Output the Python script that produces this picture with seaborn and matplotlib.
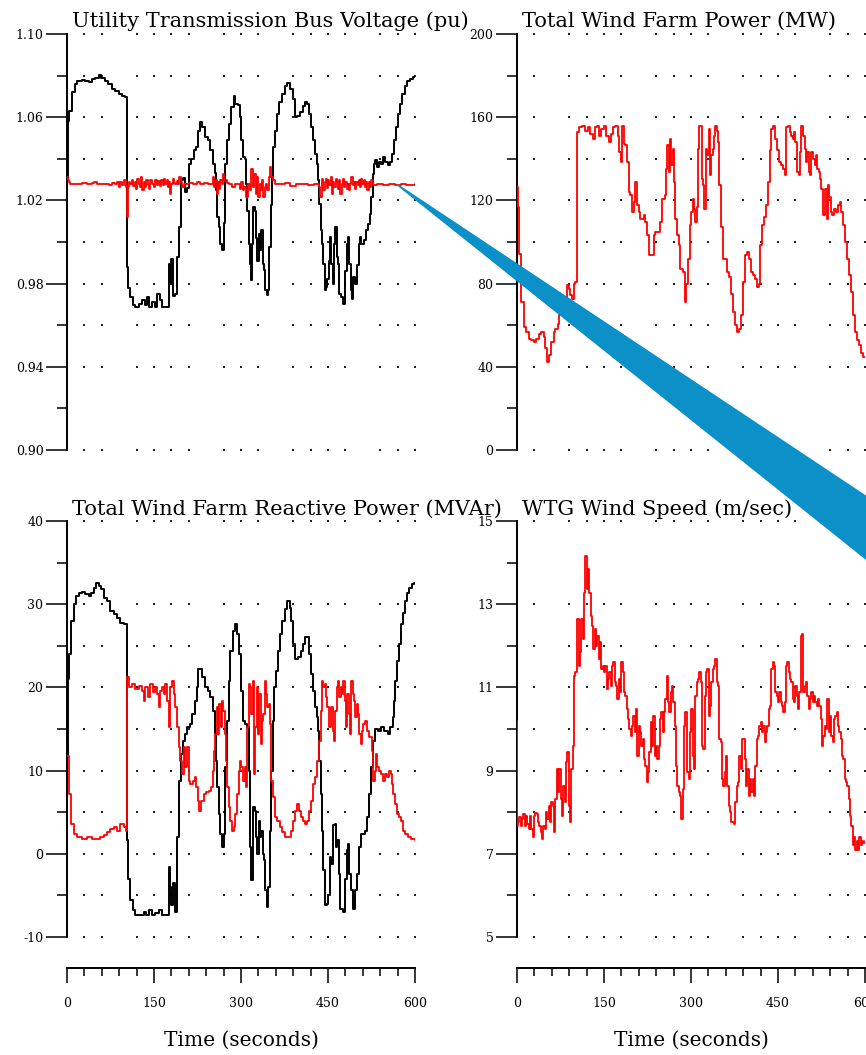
import numpy as np
import pandas as pd
import matplotlib
matplotlib.use("Agg")
import matplotlib.pyplot as plt
from matplotlib.ticker import FixedLocator, MultipleLocator
from matplotlib.patches import Polygon
import seaborn as sns

# ── Data (time in seconds, value) ───────────────────────────
# Utility transmission bus voltage (pu), black
bus_v_pts = [
    (0, 1.030), (1, 1.045), (2.5, 1.058), (4, 1.063), (8.6, 1.072), (13.2, 1.076),
    (17.2, 1.0776), (25.9, 1.078), (31.6, 1.0776), (37.4, 1.0768), (43.1, 1.0784),
    (48.9, 1.079), (54.6, 1.0805), (59.2, 1.079), (64.9, 1.0776), (70.7, 1.076),
    (77.6, 1.0736), (83.3, 1.0728), (89.1, 1.071), (94.8, 1.0704), (100.6, 1.0696),
    (103.4, 0.988), (106, 0.978), (109.2, 0.9736), (113.2, 0.9696), (117.8, 0.9688),
    (123.6, 0.9704), (129.3, 0.972), (133.9, 0.9696), (137.9, 0.9736), (142, 0.9688),
    (146.6, 0.9712), (151.1, 0.9688), (155.2, 0.975), (160.9, 0.972), (163.8, 0.9688),
    (172.4, 0.9688), (175.3, 0.9896), (178.2, 0.980), (179.9, 0.992), (182.2, 0.974),
    (186.8, 0.9752), (190.2, 0.9928), (192.5, 1.007), (196, 1.0296), (199.4, 1.031),
    (202.9, 1.024), (206.9, 1.026), (209.8, 1.0376), (214.4, 1.040), (218.4, 1.044),
    (222.4, 1.0456), (225.9, 1.0536), (228.7, 1.0576), (232.8, 1.0552), (237.4, 1.0504),
    (243.1, 1.0488), (247.1, 1.044), (251.1, 1.0376), (254.6, 1.033), (256.9, 1.025),
    (258.6, 1.012), (261.5, 1.007), (264.4, 0.999), (267.2, 0.996), (270.1, 1.009),
    (273, 1.0376), (275.9, 1.0488), (278.7, 1.0568), (283.3, 1.0648), (287.4, 1.0704),
    (290.2, 1.0664), (294.8, 1.066), (297.7, 1.060), (300.5, 1.049), (303.4, 1.0408),
    (307.4, 1.040), (309.2, 1.028), (310.9, 1.015), (313.2, 0.999), (315.5, 0.9896),
    (317.8, 0.9816), (319, 0.9992), (321.2, 1.0168), (323.5, 1.015), (325.8, 1.002),
    (328.1, 0.991), (330.4, 1.004), (332.7, 0.996), (335, 1.0056), (337.3, 0.9896),
    (339.6, 0.9864), (341.9, 0.977), (344.2, 0.9744), (346.5, 0.977), (348.8, 0.9976),
    (351.1, 1.018), (353.4, 1.031), (355.7, 1.0456), (359.2, 1.0536), (362.6, 1.0616),
    (366.1, 1.0672), (370.7, 1.0712), (375.3, 1.0752), (379.9, 1.0763), (384.5, 1.0736),
    (389.1, 1.0688), (392.5, 1.060), (397.1, 1.0608), (401.7, 1.0624), (406.3, 1.0656),
    (409.7, 1.0672), (413.2, 1.0664), (416.6, 1.0616), (420.1, 1.0552), (423.5, 1.0488),
    (427, 1.0424), (430.4, 1.0376), (432.7, 1.0296), (435, 1.0184), (437.3, 1.0056),
    (439.6, 0.9992), (441.9, 0.9896), (444.2, 0.977), (446.5, 0.9786), (448.8, 0.9824),
    (451.1, 0.991), (453.4, 1.0024), (455.7, 0.9896), (458, 0.980), (460.3, 0.9992),
    (462.6, 1.0072), (464.9, 0.993), (467.2, 0.9896), (469.5, 0.9752), (473, 0.9736),
    (476.4, 0.970), (479.9, 0.986), (482.2, 0.9992), (484.5, 1.0024), (486.8, 0.9896),
    (489.1, 0.977), (491.4, 0.9728), (493.7, 0.983), (496, 0.980), (499.4, 0.989),
    (502.8, 0.9992), (505.1, 1.0024), (507.4, 0.9992), (512, 1.0008), (515.5, 1.0056),
    (518.9, 1.0088), (522.4, 1.0136), (524.7, 1.0216), (527, 1.0328), (529.3, 1.0376),
    (531.6, 1.0392), (535, 1.036), (538.5, 1.0384), (541.9, 1.0376), (545.4, 1.0408),
    (548.8, 1.0384), (553.4, 1.0368), (556.9, 1.0384), (560.3, 1.0424), (563.8, 1.0488),
    (567.2, 1.0552), (570.7, 1.0616), (574.1, 1.0664), (577.6, 1.0712), (582.2, 1.0752),
    (586.8, 1.0776), (591.4, 1.0784), (596, 1.0795), (600, 1.080),
]

# Regulated voltage (pu), red
reg_v_pts = [
    (0, 1.0312), (2, 1.0296), (4, 1.0288), (6, 1.028), (25, 1.0283), (35, 1.0277),
    (43, 1.0283), (46, 1.0288), (52, 1.028), (60, 1.0277), (66, 1.028), (72, 1.0272),
    (78, 1.0283), (82, 1.0277), (86, 1.0288), (89, 1.0264), (92, 1.0288), (95, 1.0272),
    (98, 1.0296), (101, 1.0264), (103, 1.012), (105, 1.0264), (107, 1.0288), (109, 1.0277),
    (112, 1.030), (114, 1.0268), (117, 1.0288), (119, 1.0256), (121, 1.0304), (124, 1.028),
    (126, 1.0264), (128, 1.0312), (130, 1.0248), (132, 1.0288), (134, 1.0264), (137, 1.030),
    (139, 1.0272), (141, 1.0256), (143, 1.0296), (146, 1.0277), (148, 1.0281), (150, 1.0264),
    (152, 1.0296), (155, 1.0272), (157, 1.0293), (160, 1.0267), (162, 1.0296), (165, 1.0272),
    (167, 1.0304), (169, 1.0277), (172, 1.030), (174, 1.0264), (176, 1.0288), (178, 1.0232),
    (180, 1.028), (182, 1.0304), (184, 1.0285), (186, 1.0277), (189, 1.0293), (191, 1.0277),
    (193, 1.0312), (196, 1.0288), (198, 1.0264), (201, 1.028), (205, 1.0277), (210, 1.0283),
    (218, 1.0277), (224, 1.0288), (230, 1.0277), (236, 1.0283), (243, 1.028), (251, 1.0312),
    (253, 1.0264), (255, 1.0296), (258, 1.0232), (260, 1.0288), (262, 1.0256), (264, 1.030),
    (267, 1.028), (269, 1.0325), (271, 1.0296), (275, 1.0283), (280, 1.0277), (284, 1.0264),
    (290, 1.0277), (295, 1.028), (298, 1.0256), (300.5, 1.0288), (303, 1.0248), (306, 1.0264),
    (309, 1.0216), (312, 1.028), (315, 1.0248), (318, 1.0352), (320, 1.0264), (322, 1.0328),
    (325, 1.0232), (327, 1.0312), (329, 1.0216), (332, 1.028), (334, 1.0248), (336, 1.0296),
    (338, 1.0216), (341, 1.0264), (343, 1.028), (345, 1.0248), (348, 1.0312), (350, 1.036),
    (352, 1.0312), (355, 1.0296), (358, 1.028), (365, 1.0277), (375, 1.0283), (385, 1.027),
    (395, 1.0277), (405, 1.028), (415, 1.0272), (425, 1.028), (432, 1.0277), (435, 1.0264),
    (437, 1.0216), (440, 1.0304), (442, 1.0248), (444, 1.0288), (446, 1.0304), (448, 1.026),
    (450, 1.0296), (452, 1.0272), (455, 1.0312), (457, 1.0232), (459, 1.0288), (461, 1.0264),
    (463, 1.0304), (465, 1.0288), (467, 1.0256), (469, 1.0296), (471, 1.0232), (474, 1.0277),
    (476, 1.0304), (478, 1.0264), (480, 1.0288), (482, 1.0256), (484, 1.028), (486, 1.0248),
    (488, 1.028), (490, 1.0312), (493, 1.0272), (495, 1.0288), (497, 1.0256), (499, 1.0288),
    (501, 1.0272), (503, 1.0296), (505, 1.0264), (507, 1.0304), (509, 1.0277), (512, 1.0296),
    (514, 1.0264), (516, 1.0288), (518, 1.0248), (520, 1.0288), (522, 1.0264), (524, 1.0296),
    (527, 1.0272), (535, 1.0277), (545, 1.0272), (555, 1.0277), (565, 1.0272), (575, 1.0277),
    (585, 1.0272), (600, 1.0277),
]

# Total wind farm power (MW), red
power_pts = [
    (0, 126.4), (1.7, 116.8), (4, 94.4), (7.5, 71.2), (11.5, 59.2), (15.5, 56.8),
    (20.1, 53.6), (24.7, 52.8), (28.7, 52), (32.8, 53.6), (37.4, 56), (42, 56.8),
    (46, 54.4), (48.9, 48.8), (51.7, 42.4), (55.7, 45.6), (59.2, 52), (63.2, 56.8),
    (66.1, 58.4), (70.7, 60.8), (73, 64.8), (77.6, 67.2), (82.2, 71.2), (86.2, 79.2),
    (89.1, 77.6), (92, 74.4), (94.8, 72.8), (97.7, 80), (100.6, 80.8), (103.4, 152.8),
    (106.3, 155.2), (112, 156), (117.8, 153.6), (122.4, 155.2), (126.4, 152), (130.5, 149.6),
    (133.9, 155.2), (137.9, 156), (142, 151.2), (145.4, 154.4), (149.4, 156), (153.4, 151.2),
    (158, 148), (161.5, 152), (164.9, 155.2), (169.5, 156), (174.1, 151.2), (176.4, 143.2),
    (178.7, 138.4), (181, 156), (183.9, 147.2), (186.8, 146.4), (189.7, 138.4), (192.5, 124),
    (195.4, 122.4), (198.3, 114.4), (201.1, 119.2), (204, 128.8), (206.9, 117.6), (209.8, 114.4),
    (212.6, 111.2), (218.4, 112.8), (221.3, 109.6), (224.1, 103.2), (227, 93.6), (232.8, 93.6),
    (235.6, 103.2), (238.5, 104.8), (244.3, 104.8), (247.1, 109.6), (250, 120.8), (254.6, 122.4),
    (256.9, 135.2), (259.2, 146.4), (261.5, 133.6), (263.8, 149.6), (266.1, 136.8), (268.4, 144.8),
    (270.7, 128.8), (273, 111.2), (276.4, 103.2), (278.7, 98.4), (281.6, 87.2), (285.6, 85.6),
    (289.1, 71.2), (292, 80), (295, 92), (298, 108), (300, 114.4), (302.9, 120.8),
    (305.8, 116), (307.5, 109.6), (309.8, 116.8), (312.1, 144.8), (314.4, 156), (317.3, 156),
    (319, 130.4), (321.3, 127.2), (323, 116), (325.9, 144.8), (328.2, 141.6), (330.5, 154.4),
    (332.8, 132), (335.1, 141.6), (337.4, 144.8), (339.7, 151.2), (342, 156), (344.3, 153.6),
    (346.6, 148), (348.9, 127.2), (352.3, 107.2), (355.8, 92), (359.2, 92), (361.5, 85.6),
    (365, 83.2), (368.4, 75.2), (371.9, 66.4), (375.3, 60), (378.8, 56.8), (382.2, 58.4),
    (385.7, 64.8), (389.1, 80.8), (392.5, 93.6), (396, 95.2), (399.4, 92), (402.9, 85.6),
    (406.3, 84), (409.8, 82.4), (413.2, 78.4), (416.7, 80), (419, 98.4), (422.4, 108),
    (425.9, 112), (429.3, 117.6), (432.8, 128.8), (436.2, 144), (438.5, 154.4), (442, 156),
    (445.4, 149.6), (447.7, 144), (451.2, 138.4), (454.6, 136.8), (458.1, 135.2), (461.5, 132),
    (463.8, 155.2), (467.3, 156), (470.7, 152.8), (473, 151.2), (475.3, 149.6), (477.6, 152.8),
    (479.9, 148), (483.4, 133.6), (485.7, 132), (488, 143.2), (490.3, 156), (492.6, 151.2),
    (496, 144.8), (498.3, 138.4), (500.6, 143.2), (502.9, 133.6), (505.2, 132), (507.5, 143.2),
    (510.9, 140), (513.2, 136.8), (515.5, 141.6), (517.8, 135.2), (520.1, 133.6), (522.4, 130.4),
    (524.7, 125.6), (527, 112.8), (531.6, 125.6), (533.9, 111.2), (536.2, 127.2), (538.5, 121.6),
    (540.8, 114.4), (543.1, 112.8), (546.6, 116), (550, 114.4), (553.5, 117.6), (556.9, 119.2),
    (559.2, 114.4), (562.7, 108), (566.1, 100), (569.6, 92), (573, 84), (576.5, 76),
    (579.9, 64.8), (583.4, 56.8), (586.8, 52.8), (590.3, 50.4), (593.7, 46.4), (597.1, 44.8),
    (600, 44.8),
]

# Total wind farm reactive power (MVAr), black and red
q_black_pts = [
    (0, 11.6), (1, 15.2), (2.5, 21), (4, 24), (7.5, 28), (11.5, 30), (15.5, 31), (20, 31.4),
    (25.9, 31.5), (31.6, 31.2), (37.4, 31), (42, 31.4), (46, 32), (50, 32.6), (54.6, 32.2),
    (59.2, 31.8), (63, 30.8), (69, 30.4), (74.7, 29.2), (80.5, 28.8), (86, 28.4), (92, 27.8),
    (97.7, 27.6), (103.4, 1.6), (106, -3), (109.2, -5.5), (113, -6.8), (118, -7.3), (126, -7.4),
    (132, -7.0), (137, -7.4), (142, -6.8), (146, -7.3), (152, -7.1), (158, -6.7), (163, -7.3),
    (172.4, -7.3), (175.3, -1.6), (178.2, -4), (180, -6.2), (182.5, -3.5), (186.6, -7.0),
    (189.4, -3.5), (190.2, 2), (192.5, 8.8), (196, 12), (199.4, 13.6), (202.9, 14.4),
    (207.5, 15.2), (212, 15.6), (216, 16.8), (220, 18.4), (223.8, 20), (226.6, 22.2),
    (232.8, 21.2), (237.4, 20), (243.1, 19.6), (247.1, 18.8), (251.1, 17.2), (254.6, 14.4),
    (256.9, 11.2), (259.2, 8), (261.5, 4.8), (264.4, 2.4), (267.2, 0.8), (270.1, 2.4),
    (273, 10.4), (275.9, 16), (278.7, 20.8), (281.6, 24.4), (285.6, 26.8), (289, 27.6),
    (292.5, 26.4), (296, 24), (300.5, 19.6), (303.4, 16), (307.4, 15.6), (310.9, 15.2),
    (313.2, 10), (315.5, 0.8), (317.8, -3.2), (320, 5.6), (323.5, 5.2), (326.4, 2), (328.1, 0),
    (330.4, 4), (332.7, 2), (335, 2.8), (337.3, 0), (339.6, -0.8), (341.6, -4.4), (344.4, -6.4),
    (347.3, -4), (349.4, 2.8), (352.3, 10), (354.6, 16), (357, 20), (360.3, 22), (363.8, 24.4),
    (367.2, 26.4), (370.7, 28), (375.3, 29.4), (379.9, 30.4), (383.9, 29.6), (386.8, 28),
    (390.2, 25.2), (393.6, 23.4), (398.3, 23.6), (402.8, 24.4), (406.9, 25.2), (409.7, 26),
    (413.2, 26), (416.6, 24), (420.1, 21.6), (423.5, 19.6), (427, 17.6), (430.4, 16.4),
    (432.7, 14.8), (435, 11.2), (437.3, 7.2), (439.6, 2.8), (441.9, -2), (444.2, -6.2),
    (448, -6.0), (450.6, -5), (453.5, -0.4), (456, -1.2), (459.2, 3.5), (461.5, 3.6),
    (463.8, 0.8), (466, 1.6), (468.4, -2.4), (470.7, -6.6), (475.3, -7.0), (479.3, -3),
    (482.2, 0.4), (484.5, 1.2), (486.8, -2.4), (489, -4.4), (492.5, -6.6), (496.6, -4.4),
    (499.4, -2.4), (502.8, 0.8), (506.3, 2.4), (514.3, 2.8), (517.8, 4.4), (521.2, 7.2),
    (524.7, 10.4), (527, 13.6), (530.4, 15), (536, 14.8), (541, 15.2), (547, 14.8),
    (553, 14.4), (557.5, 15.2), (561.5, 16.4), (564, 18.4), (566, 20.8), (569.5, 23.2),
    (573, 25.2), (576.5, 27.6), (580, 29), (583.5, 30.4), (587, 31.4), (590.5, 32),
    (594, 32.4), (598, 32.5), (600, 32.5),
]

q_red_pts = [
    (0, 11.8), (4, 7.2), (7.5, 3.6), (11.5, 2.4), (17.2, 2.0), (25.9, 1.8), (34.5, 2.0),
    (43.1, 1.8), (51.7, 1.8), (57.5, 2.0), (63.2, 2.2), (69, 2.6), (74.7, 3.0), (80.5, 3.2),
    (86.2, 2.8), (92, 3.6), (97.7, 3.2), (101.7, 2.8), (103.4, 21.2), (106.3, 20), (112, 20.4),
    (117.8, 19.8), (123.6, 20.2), (129.3, 19.6), (132.2, 18.4), (135, 20), (139.7, 18.8),
    (143.7, 20.4), (147.7, 19.4), (152.3, 20), (155.2, 19.2), (158, 17.6), (160.9, 19.6),
    (163.8, 20), (166.7, 19.2), (169.5, 20.4), (172.4, 18.4), (175.3, 15.2), (178.2, 20),
    (181, 20.8), (183.9, 19.2), (186.8, 17.6), (189.7, 15.2), (192.5, 12.8), (195.4, 11.2),
    (198.3, 9.6), (201.1, 12.8), (204, 10.4), (206.9, 12.8), (209.8, 8.8), (212.6, 8.4),
    (216.7, 8.8), (220.1, 9.2), (222.4, 8), (225.9, 6.4), (228.2, 5.2), (231.6, 6.4),
    (235.6, 7.2), (239.7, 7.4), (244.3, 7.6), (248.9, 8), (251.1, 10), (253.4, 12.4),
    (255.7, 14.4), (258, 17.6), (260.3, 14.4), (262.6, 18), (264.9, 15.2), (267.2, 18.4),
    (269.5, 17.2), (271.8, 14.4), (274.1, 11.2), (276.4, 8), (278.7, 5.6), (281.6, 4),
    (284.5, 2.8), (287.4, 3.2), (290.2, 4.8), (293.1, 7.2), (296, 10), (298.9, 11.2),
    (300.5, 10.4), (303.4, 8.8), (306.3, 10.4), (309.2, 8), (310.9, 15.2), (313.2, 20.4),
    (315.5, 20), (317.8, 16.8), (320.1, 20.8), (322.4, 9.6), (324.7, 15.2), (327, 20),
    (329.3, 14.4), (331.6, 19.2), (333.9, 13.2), (336.2, 16), (338.5, 16.8), (340.8, 20.8),
    (343.1, 19.2), (345.4, 17.6), (347.7, 18), (350, 15.6), (352.3, 8.8), (355.1, 6.8),
    (358, 4.4), (362.6, 4), (366.6, 3.2), (370.7, 2.6), (375.3, 2), (381, 2), (385.6, 2.8),
    (389.1, 4), (392.5, 5.2), (396, 6), (399.4, 5.2), (402.8, 4.4), (406.3, 4), (409.7, 3.6),
    (414.3, 4), (417.8, 5.2), (421.2, 6.4), (424.7, 8.4), (428.1, 9.2), (431.6, 11.2),
    (435, 13.6), (437.3, 17.2), (439.6, 20.8), (441.9, 20), (444.2, 20.4), (446.5, 18.8),
    (448.8, 17.6), (451.1, 15.2), (455.7, 17.6), (458, 14.8), (460.3, 13.6), (462.6, 17.2),
    (464.9, 20), (467.2, 20.8), (469.5, 18.8), (471.8, 20), (474.1, 19.2), (476.4, 20.8),
    (478.7, 18.4), (481, 15.2), (483.3, 19.2), (485.6, 16.8), (487.9, 14.4), (490.2, 20.8),
    (492.5, 19.2), (494.8, 18.4), (497.1, 16.4), (499.4, 18), (501.7, 16.8), (504, 14.4),
    (506.3, 13.2), (508.6, 14.8), (510.9, 15.6), (513.2, 16), (516.6, 14.8), (520.1, 14),
    (525.8, 12.4), (528.1, 8.8), (530.4, 10), (532.7, 12), (535, 10.4), (538.5, 10),
    (541.9, 9.6), (545.4, 8.8), (547.7, 9.6), (551.1, 9.2), (554.6, 10), (558, 9.6),
    (560.3, 8.4), (562.6, 7.2), (566.1, 6), (569.5, 4.8), (573, 4.4), (576.4, 4),
    (579.9, 2.8), (583.3, 2.4), (587.9, 2), (593.6, 1.8), (600, 1.7),
]

# WTG wind speed (m/sec), red
wind_pts = [
    (0, 10.2), (0.5, 7.68), (1.7, 7.76), (4, 7.88), (6.3, 7.68), (8.6, 7.84), (10.9, 7.96),
    (13.2, 7.68), (15.5, 7.92), (17.8, 7.72), (20.1, 7.6), (22.4, 7.92), (24.7, 7.6), (27, 7.4),
    (29.3, 7.92), (31.6, 7.98), (33.9, 7.96), (36.2, 7.76), (38.5, 7.68), (40.8, 7.52),
    (43.1, 7.36), (45.4, 7.68), (47.7, 7.6), (50, 8.0), (52.3, 7.84), (54.6, 8.16), (56.9, 7.76),
    (59.2, 8.24), (61.5, 8.16), (63.8, 7.52), (66.1, 8.32), (68.4, 9.04), (70.7, 8.48),
    (73, 9.04), (75.3, 8.32), (77.6, 7.92), (79.9, 8.64), (82.2, 8.24), (84.5, 9.2), (86.8, 9.44),
    (89.1, 8.16), (91.4, 7.76), (93.7, 9.04), (96, 9.6), (98.3, 11.28), (100.6, 11.36),
    (102.9, 11.76), (104, 12.64), (106.3, 11.52), (108.6, 11.84), (110.9, 12.64), (113.2, 12.16),
    (115.5, 13.28), (117.8, 14.16), (120.1, 13.36), (122.4, 13.84), (124.7, 13.28), (127, 12.72),
    (129.3, 12.48), (131.6, 11.92), (133.9, 12.4), (136.2, 12.0), (138.5, 12.24), (140.8, 11.68),
    (143.1, 12.08), (145.4, 11.44), (147.7, 11.52), (150, 11.36), (152.3, 11.52), (154.6, 10.96),
    (156.9, 11.2), (159.2, 11.36), (161.5, 11.04), (163.8, 11.52), (166.1, 11.6), (168.4, 11.12),
    (170.7, 11.04), (173, 10.72), (175.3, 11.2), (177.6, 10.88), (179.9, 11.6), (182.2, 11.36),
    (184.5, 10.88), (186.8, 10.8), (189.1, 10.48), (191.4, 10.24), (193.7, 10.0), (196, 9.84),
    (198.3, 10.08), (200.6, 10.32), (202.9, 9.92), (205.2, 10.48), (207.5, 9.36), (209.8, 10.08),
    (212.1, 9.92), (214.4, 9.6), (216.7, 9.76), (219, 9.28), (221.3, 9.12), (223.6, 8.72),
    (225.9, 8.96), (228.2, 9.44), (230.5, 10.16), (232.8, 9.6), (235.1, 10.32), (237.4, 9.36),
    (239.7, 9.6), (242, 9.28), (244.3, 9.6), (246.6, 10.24), (248.9, 10.4), (251.1, 9.92),
    (253.4, 10.4), (255.7, 10.72), (258, 11.28), (260.3, 10.64), (262.6, 10.4), (264.9, 10.88),
    (267.2, 11.04), (269.5, 10.64), (271.8, 10.08), (274.1, 9.12), (276.4, 8.64), (278.7, 8.48),
    (281, 8.4), (283.3, 7.84), (285.6, 8.56), (288, 10.08), (290.2, 10.4), (293.7, 8.96),
    (296, 8.8), (298.3, 9.92), (300.6, 10.48), (302.9, 9.36), (305.2, 9.04), (307.5, 10.8),
    (309.8, 11.12), (312.1, 11.2), (314.4, 11.36), (316.7, 11.12), (319, 9.6), (321.3, 9.52),
    (323.6, 10.8), (325.9, 11.36), (328.2, 11.44), (330.5, 10.32), (332.8, 10.56), (335.1, 11.12),
    (337.4, 11.44), (339.7, 11.52), (342, 11.68), (344.3, 11.12), (346.6, 11.04), (348.9, 9.76),
    (351.2, 9.68), (353.5, 8.8), (355.8, 8.64), (358.1, 8.96), (360.4, 9.36), (362.7, 8.64),
    (365, 8.16), (367.3, 8.0), (369.6, 7.76), (374.2, 7.72), (376.5, 8.24), (378.8, 8.64),
    (381.1, 8.72), (383.4, 9.36), (385.7, 9.04), (388, 9.76), (392.5, 9.28), (394.9, 8.64),
    (397.1, 9.04), (399.4, 8.4), (401.7, 8.8), (404, 8.48), (406.3, 8.8), (408.6, 8.4),
    (410.9, 9.12), (413.2, 9.76), (415.5, 9.84), (417.8, 10.08), (420.1, 10.16), (422.4, 9.92),
    (424.7, 10.08), (427, 9.68), (429.3, 9.92), (431.6, 10.08), (433.9, 10.48), (436.2, 10.56),
    (438.5, 11.44), (440.8, 11.6), (443.1, 11.52), (445.4, 10.88), (447.7, 10.8), (450, 10.64),
    (452.3, 10.88), (454.6, 10.64), (456.9, 10.56), (459.2, 10.4), (461.5, 10.64), (463.8, 11.52),
    (466.1, 11.6), (468.4, 11.36), (470.7, 11.2), (473, 11.12), (475.3, 10.72), (477.6, 10.64),
    (479.9, 11.04), (482.2, 10.8), (484.5, 10.48), (486.8, 10.88), (489.1, 12.24), (491.4, 12.28),
    (493.7, 10.88), (496, 11.04), (498.3, 11.12), (500.6, 10.8), (502.9, 10.48), (505.2, 10.72),
    (507.5, 10.88), (509.8, 10.64), (512.1, 10.8), (514.4, 10.64), (516.7, 10.56), (519, 10.72),
    (521.3, 10.56), (523.6, 10.24), (525.9, 9.6), (528.2, 9.84), (530.5, 10.08), (532.8, 10.0),
    (535.1, 10.72), (537.4, 9.92), (539.7, 10.32), (542, 9.84), (544.3, 9.68), (546.6, 10.24),
    (548.9, 10.32), (551.1, 10.4), (553.4, 10.08), (555.7, 9.92), (558, 9.76), (560.3, 9.36),
    (562.6, 9.28), (564.9, 8.8), (567.2, 8.72), (569.5, 8.64), (571.8, 8.32), (574.1, 7.92),
    (576.4, 7.68), (578.7, 7.2), (581, 7.4), (583.3, 7.1), (585.6, 7.3), (588, 7.1),
    (590.2, 7.4), (592.5, 7.2), (594.8, 7.3), (597.1, 7.25), (600, 7.3),
]

titles = [
    "Utility Transmission Bus Voltage (pu)",
    "Total Wind Farm Power (MW)",
    "Total Wind Farm Reactive Power (MVAr)",
    "WTG Wind Speed (m/sec)",
]

time_ticks = [0, 150, 300, 450, 600]
grid_cols_left = [30, 60, 120, 150, 180, 210, 270, 300, 330, 390, 420, 450, 480, 540, 570, 600]
grid_cols_right = [30, 90, 120, 150, 180, 240, 270, 300, 330, 390, 420, 450, 480, 540, 570, 600]

# ── Style ────────────────────────────────────────────────────
sns.set_style("white")
plt.rcParams["font.family"] = ["DejaVu Serif"]
plt.rcParams["text.color"] = "black"
plt.rcParams["axes.labelcolor"] = "black"

W, H = 866, 1055
fig = plt.figure(figsize=(W / 100, H / 100), dpi=100)


def add_ax(left, top, right, bottom):
    return fig.add_axes([left / W, 1 - bottom / H, (right - left) / W, (bottom - top) / H])


def draw(ax, pts, color, lw):
    df = pd.DataFrame(pts, columns=["t", "v"])
    sns.lineplot(data=df, x="t", y="v", ax=ax, color=color, linewidth=lw,
                 drawstyle="steps-post", estimator=None, sort=False, legend=False,
                 zorder=3)
    ax.set_xlabel("")
    ax.set_ylabel("")


def style(ax, ylim, major, labels, minor, grid_rows, cols, title, bottom_axis, title_dy):
    ax.set_xlim(0, 600)
    ax.set_ylim(*ylim)
    for s in ["top", "right"]:
        ax.spines[s].set_visible(False)
    ax.spines["left"].set_linewidth(1.4)
    ax.spines["left"].set_color("black")
    ax.yaxis.set_major_locator(FixedLocator(major))
    ax.yaxis.set_minor_locator(FixedLocator(minor))
    ax.set_yticklabels(labels)
    ax.tick_params(axis="y", which="major", left=True, direction="out", length=15,
                   width=1.1, pad=2, labelsize=9, colors="black")
    ax.tick_params(axis="y", which="minor", left=True, direction="out", length=7,
                   width=1.1, colors="black")
    if bottom_axis:
        ax.spines["bottom"].set_position(("outward", 22))
        ax.spines["bottom"].set_linewidth(1.4)
        ax.spines["bottom"].set_color("black")
        ax.xaxis.set_major_locator(FixedLocator(time_ticks))
        ax.xaxis.set_minor_locator(MultipleLocator(30))
        ax.set_xticklabels([str(t) for t in time_ticks])
        ax.tick_params(axis="x", which="major", bottom=True, direction="out", length=11,
                       width=1.1, pad=10, labelsize=9, colors="black")
        ax.tick_params(axis="x", which="minor", bottom=True, direction="out", length=6,
                       width=1.1, colors="black")
        ax.set_xlabel("Time (seconds)", fontsize=14.5, labelpad=15)
    else:
        ax.spines["bottom"].set_visible(False)
        ax.tick_params(axis="x", which="both", bottom=False, labelbottom=False)

    # dotted grid at every tick level
    gx, gy = np.meshgrid(cols, grid_rows)
    ax.scatter(gx.ravel(), gy.ravel(), s=1.6, marker="s", color="#222222",
               linewidths=0, zorder=1, clip_on=False)

    ax.annotate(title, xy=(0, 1), xycoords="axes fraction", xytext=(5, title_dy),
                textcoords="offset pixels", ha="left", va="baseline", fontsize=15)


# ── Panels ───────────────────────────────────────────────────
ax_v = add_ax(67, 34, 415, 450)
ax_p = add_ax(517, 34, 865, 450)
ax_q = add_ax(67, 521, 415, 937)
ax_w = add_ax(517, 521, 865, 937)

draw(ax_v, bus_v_pts, "black", 1.4)
draw(ax_v, reg_v_pts, "#ff0000", 1.3)
style(ax_v, (0.90, 1.10), [0.90, 0.94, 0.98, 1.02, 1.06, 1.10],
      ["0.90", "0.94", "0.98", "1.02", "1.06", "1.10"],
      [0.92, 0.96, 1.00, 1.04, 1.08],
      [0.90, 0.94, 0.96, 0.98, 1.00, 1.02, 1.04, 1.06, 1.08, 1.10],
      grid_cols_left, titles[0], False, 7)

draw(ax_p, power_pts, "#ff0000", 1.3)
style(ax_p, (0, 200), [0, 40, 80, 120, 160, 200],
      ["0", "40", "80", "120", "160", "200"],
      [20, 60, 100, 140, 180],
      [0, 40, 60, 80, 100, 120, 140, 160, 180, 200],
      grid_cols_right, titles[1], False, 7)

draw(ax_q, q_black_pts, "black", 1.4)
draw(ax_q, q_red_pts, "#ff0000", 1.3)
style(ax_q, (-10, 40), [-10, 0, 10, 20, 30, 40],
      ["-10", "0", "10", "20", "30", "40"],
      [-5, 5, 15, 25, 35],
      [-10, -5, 0, 5, 10, 15, 20, 25, 30, 40],
      grid_cols_left, titles[2], True, 6)

draw(ax_w, wind_pts, "#ff0000", 1.3)
style(ax_w, (5, 15), [5, 7, 9, 11, 13, 15],
      ["5", "7", "9", "11", "13", "15"],
      [6, 8, 10, 12, 14],
      [5, 6, 7, 8, 9, 10, 11, 12, 13, 15],
      grid_cols_right, titles[3], True, 6)

# ── Blue callout wedge over the figure ───────────────────────
wedge_px = [(397, 183.5), (397, 185.5), (960, 635), (960, 558)]
wedge = Polygon([(x / W, 1 - y / H) for x, y in wedge_px], closed=True,
                transform=fig.transFigure, facecolor="#0b90c8", edgecolor="none",
                zorder=20)
fig.patches.append(wedge)

fig.savefig("out.png", dpi=100)
